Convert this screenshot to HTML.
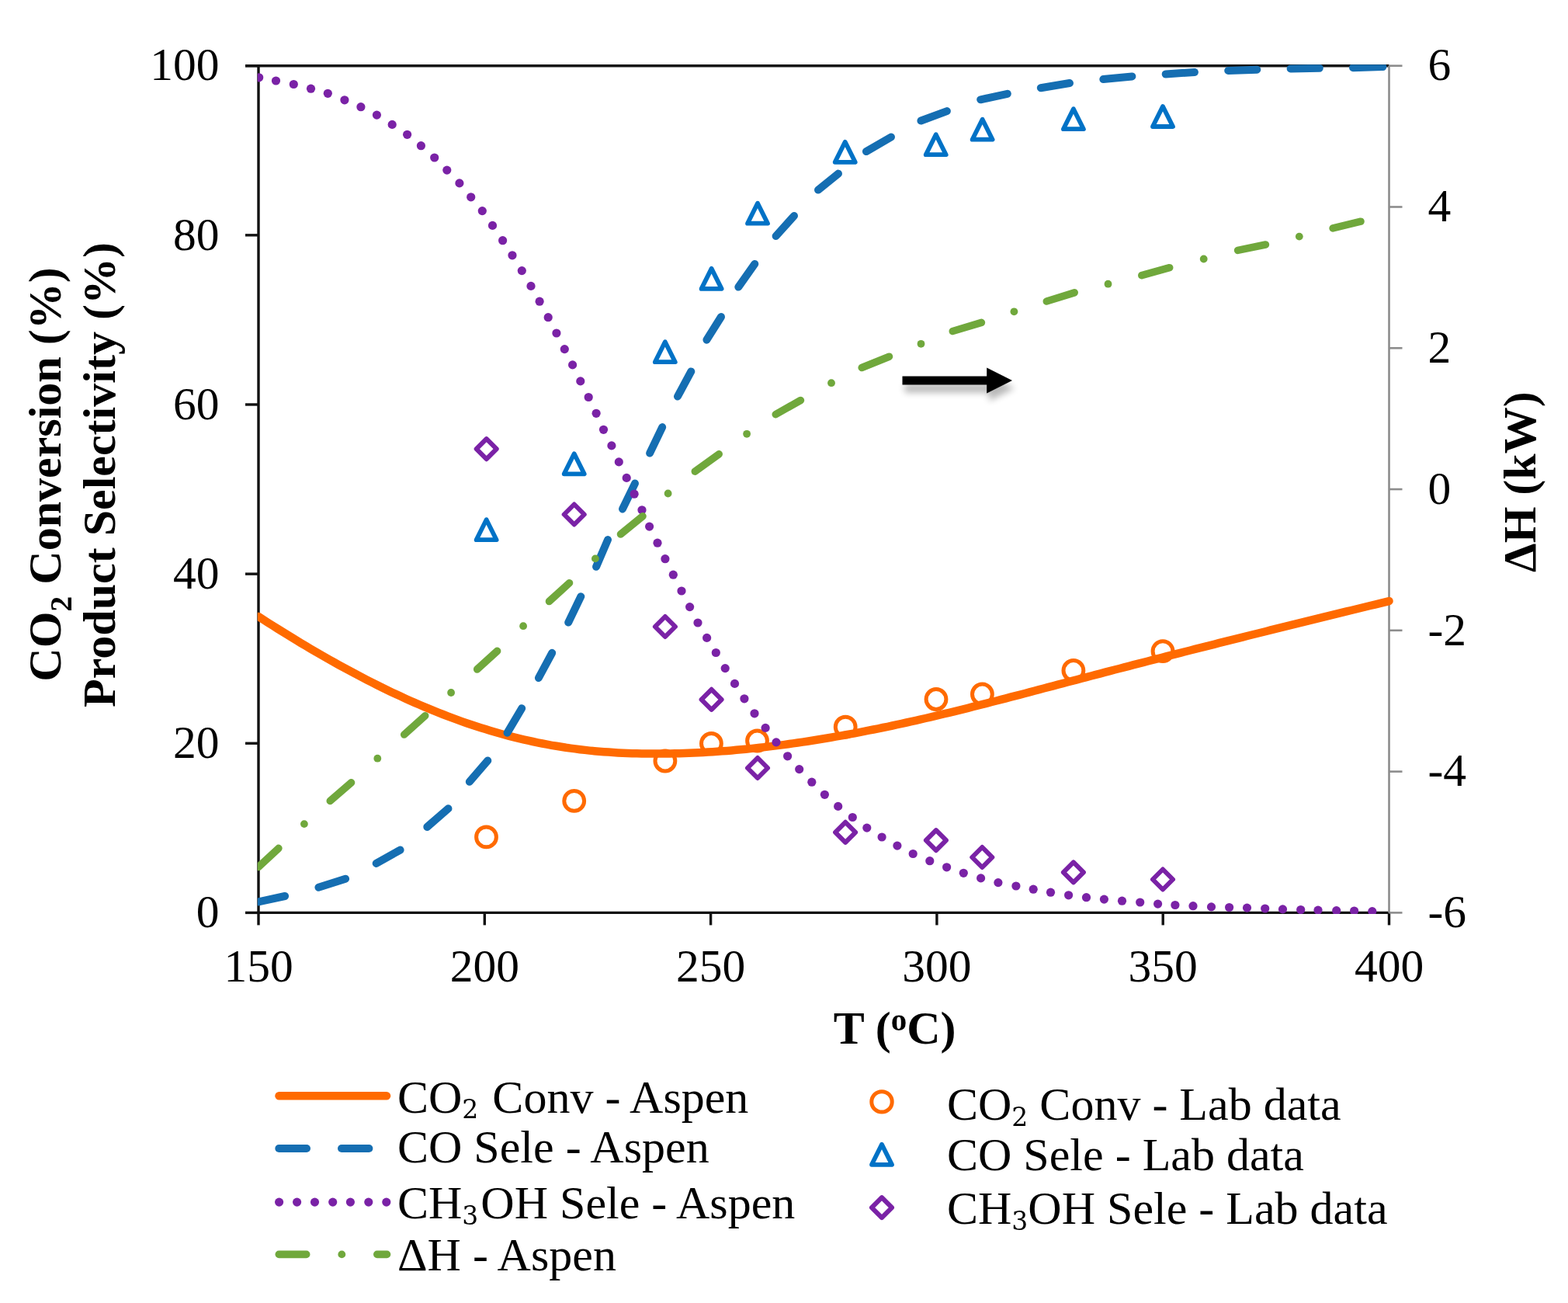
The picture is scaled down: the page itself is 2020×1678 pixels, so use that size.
<!DOCTYPE html>
<html><head><meta charset="utf-8"><title>CO2 conversion and product selectivity vs temperature</title>
<style>html,body{margin:0;padding:0;background:#fff;}svg{display:block;}</style></head>
<body><svg width="2020" height="1678" viewBox="0 0 2020 1678">
<rect width="2020" height="1678" fill="#fff"/>
<g stroke="#111" stroke-width="3.4" fill="none">
<line x1="333.0" y1="84.7" x2="333.0" y2="1175.4"/>
<line x1="331.2" y1="1175.4" x2="1789.5" y2="1175.4"/>
<line x1="316.0" y1="84.7" x2="1789.5" y2="84.7"/>
<line x1="316.0" y1="1175.40" x2="333.0" y2="1175.40"/>
<line x1="316.0" y1="957.26" x2="333.0" y2="957.26"/>
<line x1="316.0" y1="739.12" x2="333.0" y2="739.12"/>
<line x1="316.0" y1="520.98" x2="333.0" y2="520.98"/>
<line x1="316.0" y1="302.84" x2="333.0" y2="302.84"/>
<line x1="316.0" y1="84.70" x2="333.0" y2="84.70"/>
<line x1="333.00" y1="1175.4" x2="333.00" y2="1191.4"/>
<line x1="624.30" y1="1175.4" x2="624.30" y2="1191.4"/>
<line x1="915.60" y1="1175.4" x2="915.60" y2="1191.4"/>
<line x1="1206.90" y1="1175.4" x2="1206.90" y2="1191.4"/>
<line x1="1498.20" y1="1175.4" x2="1498.20" y2="1191.4"/>
<line x1="1789.50" y1="1175.4" x2="1789.50" y2="1191.4"/>
</g>
<g stroke="#8C8C8C" stroke-width="2.6" fill="none">
<line x1="1789.5" y1="84.7" x2="1789.5" y2="1175.4"/>
<line x1="1789.5" y1="1175.40" x2="1806.5" y2="1175.40"/>
<line x1="1789.5" y1="993.62" x2="1806.5" y2="993.62"/>
<line x1="1789.5" y1="811.83" x2="1806.5" y2="811.83"/>
<line x1="1789.5" y1="630.05" x2="1806.5" y2="630.05"/>
<line x1="1789.5" y1="448.27" x2="1806.5" y2="448.27"/>
<line x1="1789.5" y1="266.48" x2="1806.5" y2="266.48"/>
<line x1="1789.5" y1="84.70" x2="1806.5" y2="84.70"/>
</g>
<g font-family="'Liberation Serif','Times New Roman',serif" font-size="59.5" fill="#000">
<text x="282.5" y="1194.1" text-anchor="end">0</text>
<text x="282.5" y="976.0" text-anchor="end">20</text>
<text x="282.5" y="757.8" text-anchor="end">40</text>
<text x="282.5" y="539.7" text-anchor="end">60</text>
<text x="282.5" y="321.5" text-anchor="end">80</text>
<text x="282.5" y="103.4" text-anchor="end">100</text>
<text x="1839.5" y="1194.1">-6</text>
<text x="1839.5" y="1012.3">-4</text>
<text x="1839.5" y="830.5">-2</text>
<text x="1839.5" y="648.8">0</text>
<text x="1839.5" y="467.0">2</text>
<text x="1839.5" y="285.2">4</text>
<text x="1839.5" y="103.4">6</text>
<text x="333.0" y="1263.5" text-anchor="middle">150</text>
<text x="624.3" y="1263.5" text-anchor="middle">200</text>
<text x="915.6" y="1263.5" text-anchor="middle">250</text>
<text x="1206.9" y="1263.5" text-anchor="middle">300</text>
<text x="1498.2" y="1263.5" text-anchor="middle">350</text>
<text x="1789.5" y="1263.5" text-anchor="middle">400</text>
</g>
<g font-family="'Liberation Serif','Times New Roman',serif" font-weight="bold" font-size="60" fill="#000">
<text transform="translate(78,611) rotate(-90)" text-anchor="middle">CO<tspan font-size="40" dy="13.5">2</tspan><tspan dy="-13.5"> Conversion (%)</tspan></text>
<text transform="translate(147.5,611.5) rotate(-90)" text-anchor="middle">Product Selectivity (%)</text>
<text transform="translate(1978.4,620.6) rotate(-90)" text-anchor="middle">ΔH (kW)</text>
<text x="1152.6" y="1344.4" text-anchor="middle">T (<tspan font-size="41" dy="-17.4">o</tspan><tspan dy="17.4">C)</tspan></text>
</g>
<clipPath id="pc"><rect x="331.8" y="83.2" width="1465.7" height="1093.7"/></clipPath>
<path clip-path="url(#pc)" d="M333.0,794.0 L339.1,797.9 L345.2,801.8 L351.3,805.6 L357.4,809.5 L363.5,813.3 L369.6,817.0 L375.7,820.8 L381.8,824.5 L387.8,828.2 L393.9,831.8 L400.0,835.4 L406.1,839.0 L412.2,842.5 L418.3,846.0 L424.4,849.5 L430.5,852.9 L436.6,856.3 L442.7,859.6 L448.8,862.9 L454.9,866.2 L461.0,869.4 L467.1,872.6 L473.2,875.8 L479.3,878.9 L485.4,882.0 L491.4,885.0 L497.5,888.0 L503.6,890.9 L509.7,893.8 L515.8,896.6 L521.9,899.4 L528.0,902.2 L534.1,904.9 L540.2,907.5 L546.3,910.1 L552.4,912.7 L558.5,915.2 L564.6,917.6 L570.7,920.0 L576.8,922.4 L582.9,924.7 L589.0,926.9 L595.0,929.1 L601.1,931.2 L607.2,933.3 L613.3,935.3 L619.4,937.2 L625.5,939.1 L631.6,941.0 L637.7,942.8 L643.8,944.5 L649.9,946.2 L656.0,947.8 L662.1,949.4 L668.2,950.9 L674.3,952.3 L680.4,953.7 L686.5,955.0 L692.6,956.3 L698.6,957.5 L704.7,958.7 L710.8,959.8 L716.9,960.8 L723.0,961.8 L729.1,962.8 L735.2,963.6 L741.3,964.4 L747.4,965.2 L753.5,965.9 L759.6,966.6 L765.7,967.2 L771.8,967.7 L777.9,968.2 L784.0,968.6 L790.1,969.0 L796.2,969.4 L802.2,969.7 L808.3,969.9 L814.4,970.2 L820.5,970.3 L826.6,970.5 L832.7,970.6 L838.8,970.6 L844.9,970.6 L851.0,970.6 L857.1,970.5 L863.2,970.4 L869.3,970.3 L875.4,970.2 L881.5,970.0 L887.6,969.8 L893.7,969.5 L899.8,969.2 L905.8,968.9 L911.9,968.5 L918.0,968.2 L924.1,967.8 L930.2,967.3 L936.3,966.9 L942.4,966.4 L948.5,965.8 L954.6,965.3 L960.7,964.7 L966.8,964.1 L972.9,963.4 L979.0,962.8 L985.1,962.1 L991.2,961.4 L997.3,960.6 L1003.4,959.9 L1009.4,959.1 L1015.5,958.2 L1021.6,957.4 L1027.7,956.5 L1033.8,955.6 L1039.9,954.7 L1046.0,953.8 L1052.1,952.8 L1058.2,951.8 L1064.3,950.8 L1070.4,949.8 L1076.5,948.7 L1082.6,947.6 L1088.7,946.5 L1094.8,945.4 L1100.9,944.3 L1107.0,943.1 L1113.1,941.9 L1119.1,940.7 L1125.2,939.5 L1131.3,938.3 L1137.4,937.0 L1143.5,935.8 L1149.6,934.5 L1155.7,933.2 L1161.8,931.8 L1167.9,930.5 L1174.0,929.2 L1180.1,927.8 L1186.2,926.4 L1192.3,925.0 L1198.4,923.6 L1204.5,922.1 L1210.6,920.7 L1216.7,919.2 L1222.7,917.8 L1228.8,916.3 L1234.9,914.8 L1241.0,913.3 L1247.1,911.8 L1253.2,910.2 L1259.3,908.7 L1265.4,907.2 L1271.5,905.6 L1277.6,904.0 L1283.7,902.5 L1289.8,900.9 L1295.9,899.3 L1302.0,897.7 L1308.1,896.1 L1314.2,894.6 L1320.3,893.0 L1326.3,891.4 L1332.4,889.7 L1338.5,888.1 L1344.6,886.5 L1350.7,884.9 L1356.8,883.3 L1362.9,881.7 L1369.0,880.1 L1375.1,878.5 L1381.2,876.9 L1387.3,875.3 L1393.4,873.7 L1399.5,872.1 L1405.6,870.5 L1411.7,868.9 L1417.8,867.3 L1423.9,865.7 L1429.9,864.1 L1436.0,862.5 L1442.1,861.0 L1448.2,859.4 L1454.3,857.8 L1460.4,856.2 L1466.5,854.6 L1472.6,853.1 L1478.7,851.5 L1484.8,849.9 L1490.9,848.4 L1497.0,846.8 L1503.1,845.2 L1509.2,843.7 L1515.3,842.1 L1521.4,840.6 L1527.5,839.0 L1533.5,837.5 L1539.6,835.9 L1545.7,834.4 L1551.8,832.8 L1557.9,831.3 L1564.0,829.8 L1570.1,828.2 L1576.2,826.7 L1582.3,825.1 L1588.4,823.6 L1594.5,822.1 L1600.6,820.6 L1606.7,819.0 L1612.8,817.5 L1618.9,816.0 L1625.0,814.5 L1631.1,813.0 L1637.1,811.4 L1643.2,809.9 L1649.3,808.4 L1655.4,806.9 L1661.5,805.4 L1667.6,803.9 L1673.7,802.4 L1679.8,800.9 L1685.9,799.4 L1692.0,797.9 L1698.1,796.4 L1704.2,794.9 L1710.3,793.4 L1716.4,791.9 L1722.5,790.4 L1728.6,788.9 L1734.7,787.4 L1740.7,786.0 L1746.8,784.5 L1752.9,783.0 L1759.0,781.5 L1765.1,780.0 L1771.2,778.6 L1777.3,777.1 L1783.4,775.6 L1789.5,774.1" fill="none" stroke="#FF6A00" stroke-width="10.5" stroke-linecap="round" stroke-linejoin="round"/>
<g fill="none" stroke="#FF6A00" stroke-width="5">
<circle cx="626.5" cy="1077.9" r="12.9"/>
<circle cx="739.7" cy="1031.4" r="12.9"/>
<circle cx="856.9" cy="980" r="12.9"/>
<circle cx="916.4" cy="957.5" r="12.9"/>
<circle cx="975.5" cy="954" r="12.9"/>
<circle cx="1089.2" cy="936.2" r="12.9"/>
<circle cx="1206" cy="900.5" r="12.9"/>
<circle cx="1265.4" cy="894" r="12.9"/>
<circle cx="1382.9" cy="863.5" r="12.9"/>
<circle cx="1498" cy="838.7" r="12.9"/>
</g>
<g clip-path="url(#pc)" stroke="#156EB2" stroke-width="10" stroke-linecap="round" fill="none">
<line x1="333" y1="1161.4" x2="367.1" y2="1154"/>
<line x1="410.4" y1="1142.8" x2="445.1" y2="1131.7"/>
<line x1="484.7" y1="1111.9" x2="515.6" y2="1094.6"/>
<line x1="550.3" y1="1064.9" x2="577.5" y2="1041.3"/>
<line x1="604.8" y1="1006.7" x2="628.3" y2="979.5"/>
<line x1="653.5" y1="943.7" x2="672.2" y2="912.2"/>
<line x1="693.9" y1="873" x2="711.2" y2="840.8"/>
<line x1="732.2" y1="801.6" x2="748.3" y2="768.2"/>
<line x1="768.1" y1="729.8" x2="783" y2="695.1"/>
<line x1="802" y1="655.4" x2="818" y2="622.6"/>
<line x1="837.1" y1="583.6" x2="853.2" y2="550.1"/>
<line x1="873" y1="510.5" x2="890.3" y2="478.4"/>
<line x1="910.4" y1="437.7" x2="929" y2="408"/>
<line x1="951.3" y1="369.6" x2="972.3" y2="339.9"/>
<line x1="999.6" y1="304" x2="1023" y2="278"/>
<line x1="1054" y1="244.6" x2="1080" y2="223.6"/>
<line x1="1115.9" y1="195.1" x2="1148" y2="176.5"/>
<line x1="1186.4" y1="155.5" x2="1219.9" y2="143.1"/>
<line x1="1263.2" y1="128.3" x2="1297.8" y2="120.8"/>
<line x1="1340.8" y1="113.2" x2="1378" y2="107"/>
<line x1="1421.3" y1="102.1" x2="1458.4" y2="98.4"/>
<line x1="1501.7" y1="95.4" x2="1538.9" y2="92.9"/>
<line x1="1582.2" y1="90.9" x2="1619.3" y2="89.7"/>
<line x1="1662.6" y1="88.5" x2="1699.8" y2="87.7"/>
<line x1="1743" y1="87.2" x2="1781.4" y2="86"/>
</g>
<g fill="none" stroke="#0072C6" stroke-width="5.8" stroke-linejoin="round">
<path d="M626.6,669.2 L639.6,695.2 L613.6,695.2 Z"/>
<path d="M739.7,584.3 L752.7,610.3 L726.7,610.3 Z"/>
<path d="M856.8,440.2 L869.8,466.2 L843.8,466.2 Z"/>
<path d="M916.6,345.9 L929.6,371.9 L903.6,371.9 Z"/>
<path d="M976.0,261.7 L989.0,287.7 L963.0,287.7 Z"/>
<path d="M1088.7,182.8 L1101.7,208.8 L1075.7,208.8 Z"/>
<path d="M1205.7,173.2 L1218.7,199.2 L1192.7,199.2 Z"/>
<path d="M1265.6,153.7 L1278.6,179.7 L1252.6,179.7 Z"/>
<path d="M1382.9,140.2 L1395.9,166.2 L1369.9,166.2 Z"/>
<path d="M1498.0,137.0 L1511.0,163.0 L1485.0,163.0 Z"/>
</g>
<g clip-path="url(#pc)" fill="#7A22A6">
<circle cx="333.7" cy="99.8" r="5.6"/>
<circle cx="355.5" cy="104" r="5.6"/>
<circle cx="378.3" cy="108.5" r="5.6"/>
<circle cx="400.5" cy="114.2" r="5.6"/>
<circle cx="422.3" cy="120.3" r="5.6"/>
<circle cx="443.9" cy="128.8" r="5.6"/>
<circle cx="464.9" cy="137.7" r="5.6"/>
<circle cx="485.4" cy="148.1" r="5.6"/>
<circle cx="505.2" cy="160.4" r="5.6"/>
<circle cx="524.6" cy="173.3" r="5.6"/>
<circle cx="542.4" cy="187.7" r="5.6"/>
<circle cx="559.7" cy="203" r="5.6"/>
<circle cx="575.8" cy="219.1" r="5.6"/>
<circle cx="591.9" cy="235.9" r="5.6"/>
<circle cx="606.7" cy="253.8" r="5.6"/>
<circle cx="621.3" cy="271.6" r="5.6"/>
<circle cx="634.5" cy="290.4" r="5.6"/>
<circle cx="647.6" cy="309.7" r="5.6"/>
<circle cx="660" cy="328.8" r="5.6"/>
<circle cx="672.3" cy="348.6" r="5.6"/>
<circle cx="684" cy="368.4" r="5.6"/>
<circle cx="695.1" cy="388.2" r="5.6"/>
<circle cx="706.2" cy="408.7" r="5.6"/>
<circle cx="716.9" cy="429" r="5.6"/>
<circle cx="727.3" cy="449.6" r="5.6"/>
<circle cx="737.6" cy="469.9" r="5.6"/>
<circle cx="747.8" cy="490.9" r="5.6"/>
<circle cx="758.2" cy="511.5" r="5.6"/>
<circle cx="768.1" cy="532.3" r="5.6"/>
<circle cx="777.5" cy="553.3" r="5.6"/>
<circle cx="787.9" cy="573.9" r="5.6"/>
<circle cx="797.3" cy="594.9" r="5.6"/>
<circle cx="807.2" cy="615.4" r="5.6"/>
<circle cx="817.1" cy="636.2" r="5.6"/>
<circle cx="827" cy="656.8" r="5.6"/>
<circle cx="836.6" cy="678.1" r="5.6"/>
<circle cx="847" cy="699.2" r="5.6"/>
<circle cx="856.9" cy="719.7" r="5.6"/>
<circle cx="867.3" cy="740.2" r="5.6"/>
<circle cx="878" cy="761" r="5.6"/>
<circle cx="888.6" cy="781.6" r="5.6"/>
<circle cx="899" cy="802" r="5.6"/>
<circle cx="910.6" cy="821.4" r="5.6"/>
<circle cx="922.3" cy="840.5" r="5.6"/>
<circle cx="934.2" cy="860.6" r="5.6"/>
<circle cx="946.5" cy="880.4" r="5.6"/>
<circle cx="958.9" cy="899.8" r="5.6"/>
<circle cx="972" cy="918.8" r="5.6"/>
<circle cx="986.1" cy="937.4" r="5.6"/>
<circle cx="1000" cy="955.9" r="5.6"/>
<circle cx="1014.6" cy="973.8" r="5.6"/>
<circle cx="1029.7" cy="990.6" r="5.6"/>
<circle cx="1045.8" cy="1007.2" r="5.6"/>
<circle cx="1062.4" cy="1023.3" r="5.6"/>
<circle cx="1079.7" cy="1038.4" r="5.6"/>
<circle cx="1098.3" cy="1052.5" r="5.6"/>
<circle cx="1116.8" cy="1066.1" r="5.6"/>
<circle cx="1136.1" cy="1078" r="5.6"/>
<circle cx="1155.9" cy="1089.1" r="5.6"/>
<circle cx="1176.2" cy="1099.5" r="5.6"/>
<circle cx="1197.8" cy="1108.7" r="5.6"/>
<circle cx="1219.6" cy="1116.8" r="5.6"/>
<circle cx="1241.3" cy="1124.3" r="5.6"/>
<circle cx="1263.6" cy="1130.9" r="5.6"/>
<circle cx="1285.9" cy="1136.6" r="5.6"/>
<circle cx="1308.9" cy="1141" r="5.6"/>
<circle cx="1331.2" cy="1145.2" r="5.6"/>
<circle cx="1353.5" cy="1149.2" r="5.6"/>
<circle cx="1376.6" cy="1152.8" r="5.6"/>
<circle cx="1399.5" cy="1155.7" r="5.6"/>
<circle cx="1422.4" cy="1158.1" r="5.6"/>
<circle cx="1445.5" cy="1160.2" r="5.6"/>
<circle cx="1468.7" cy="1162" r="5.6"/>
<circle cx="1491.6" cy="1164.1" r="5.6"/>
<circle cx="1513.9" cy="1165.5" r="5.6"/>
<circle cx="1537" cy="1166.7" r="5.6"/>
<circle cx="1560.5" cy="1167.9" r="5.6"/>
<circle cx="1583.6" cy="1168.5" r="5.6"/>
<circle cx="1606.5" cy="1169.1" r="5.6"/>
<circle cx="1629.7" cy="1170" r="5.6"/>
<circle cx="1652.5" cy="1170.9" r="5.6"/>
<circle cx="1675.7" cy="1171.5" r="5.6"/>
<circle cx="1698" cy="1172.1" r="5.6"/>
<circle cx="1721.7" cy="1172.7" r="5.6"/>
<circle cx="1744.6" cy="1173" r="5.6"/>
<circle cx="1767.8" cy="1173.6" r="5.6"/>
</g>
<g fill="none" stroke="#7A22A6" stroke-width="6" stroke-linejoin="round">
<path d="M626.7,565.2 L639.7,578.2 L626.7,591.2 L613.7,578.2 Z"/>
<path d="M739.7,649.5 L752.7,662.5 L739.7,675.5 L726.7,662.5 Z"/>
<path d="M856.9,794.0 L869.9,807.0 L856.9,820.0 L843.9,807.0 Z"/>
<path d="M916.6,887.8 L929.6,900.8 L916.6,913.8 L903.6,900.8 Z"/>
<path d="M976.0,976.0 L989.0,989.0 L976.0,1002.0 L963.0,989.0 Z"/>
<path d="M1089.1,1058.8 L1102.1,1071.8 L1089.1,1084.8 L1076.1,1071.8 Z"/>
<path d="M1205.9,1069.2 L1218.9,1082.2 L1205.9,1095.2 L1192.9,1082.2 Z"/>
<path d="M1265.3,1091.0 L1278.3,1104.0 L1265.3,1117.0 L1252.3,1104.0 Z"/>
<path d="M1382.9,1110.4 L1395.9,1123.4 L1382.9,1136.4 L1369.9,1123.4 Z"/>
<path d="M1498.0,1119.5 L1511.0,1132.5 L1498.0,1145.5 L1485.0,1132.5 Z"/>
</g>
<g clip-path="url(#pc)">
<g stroke="#70A83C" stroke-width="9.6" stroke-linecap="round" fill="none">
<line x1="333" y1="1116.5" x2="358.9" y2="1092.4"/>
<line x1="425.3" y1="1031.4" x2="452.5" y2="1007.9"/>
<line x1="520.7" y1="946" x2="547.7" y2="921.8"/>
<line x1="614.7" y1="861.9" x2="640.6" y2="838.4"/>
<line x1="707.5" y1="774.4" x2="733.5" y2="750.8"/>
<line x1="799.5" y1="688" x2="828" y2="664.7"/>
<line x1="895.3" y1="607.1" x2="926.2" y2="584.8"/>
<line x1="999.3" y1="533.6" x2="1031.4" y2="515.5"/>
<line x1="1110.2" y1="473.5" x2="1145.5" y2="459.2"/>
<line x1="1227.3" y1="426.5" x2="1264.4" y2="415.4"/>
<line x1="1348.3" y1="388" x2="1384.2" y2="376.8"/>
<line x1="1470.8" y1="354.6" x2="1506.7" y2="344.7"/>
<line x1="1594.6" y1="322.4" x2="1630.4" y2="315"/>
<line x1="1717.1" y1="293.9" x2="1753" y2="285.2"/>
</g>
<g fill="#70A83C">
<circle cx="391.9" cy="1061.1" r="4.9"/>
<circle cx="486.3" cy="976.7" r="4.9"/>
<circle cx="581.1" cy="892" r="4.9"/>
<circle cx="674.1" cy="806.2" r="4.9"/>
<circle cx="766.9" cy="719.4" r="4.9"/>
<circle cx="860.6" cy="635.5" r="4.9"/>
<circle cx="962.1" cy="558.8" r="4.9"/>
<circle cx="1071" cy="493.2" r="4.9"/>
<circle cx="1186.5" cy="442.8" r="4.9"/>
<circle cx="1306.4" cy="401.3" r="4.9"/>
<circle cx="1427.5" cy="365.7" r="4.9"/>
<circle cx="1550.7" cy="333.5" r="4.9"/>
<circle cx="1673.8" cy="304.6" r="4.9"/>
</g>
</g>
<filter id="sh" x="-20%" y="-50%" width="140%" height="250%"><feGaussianBlur stdDeviation="4.5"/></filter>
<path d="M1162.5,484.5 L1271.2,484.5 L1271.2,473.5 L1304,490 L1271.2,506.5 L1271.2,495.5 L1162.5,495.5 Z" fill="#000" opacity="0.28" transform="translate(3,10)" filter="url(#sh)"/>
<path d="M1162.5,484.5 L1271.2,484.5 L1271.2,473.5 L1304,490 L1271.2,506.5 L1271.2,495.5 L1162.5,495.5 Z" fill="#000"/>
<g font-family="'Liberation Serif','Times New Roman',serif" font-size="60" fill="#000">
<line x1="359.5" y1="1411.3" x2="498" y2="1411.3" stroke="#FF6A00" stroke-width="10.5" stroke-linecap="round"/>
<g stroke="#156EB2" stroke-width="10" stroke-linecap="round"><line x1="359.3" y1="1479" x2="395" y2="1479"/><line x1="440" y1="1479" x2="475.4" y2="1479"/></g>
<g fill="#7A22A6"><circle cx="359.6" cy="1548.1" r="5.6"/><circle cx="382.6" cy="1548.1" r="5.6"/><circle cx="405.5" cy="1548.1" r="5.6"/><circle cx="428.7" cy="1548.1" r="5.6"/><circle cx="451.4" cy="1548.1" r="5.6"/><circle cx="474.8" cy="1548.1" r="5.6"/><circle cx="497.8" cy="1548.1" r="5.6"/></g>
<g stroke="#70A83C" stroke-width="9.6" stroke-linecap="round"><line x1="359.3" y1="1615.4" x2="394.7" y2="1615.4"/><line x1="485.8" y1="1615.4" x2="498.5" y2="1615.4"/></g><circle cx="440.3" cy="1615.4" r="4.9" fill="#70A83C"/>
<text x="512" y="1432.8">CO<tspan font-family="DejaVu Serif" font-size="33" dy="7.5">2</tspan><tspan dy="-7.5" dx="3"> Conv - Aspen</tspan></text>
<text x="512" y="1497">CO Sele - Aspen</text>
<text x="512" y="1569">CH<tspan font-family="DejaVu Serif" font-size="33" dy="7.5">3</tspan><tspan dy="-7.5" dx="3">OH Sele - Aspen</tspan></text>
<text x="512" y="1635.5">ΔH - Aspen</text>
<circle cx="1136" cy="1418.9" r="13.2" fill="none" stroke="#FF6A00" stroke-width="5"/>
<g fill="none" stroke="#0072C6" stroke-width="5.8" stroke-linejoin="round"><path d="M1136.0,1473.8 L1149.0,1499.8 L1123.0,1499.8 Z"/></g>
<g fill="none" stroke="#7A22A6" stroke-width="6" stroke-linejoin="round"><path d="M1136.0,1542.1 L1149.0,1555.1 L1136.0,1568.1 L1123.0,1555.1 Z"/></g>
<text x="1220" y="1442.4">CO<tspan font-family="DejaVu Serif" font-size="33" dy="7.5">2</tspan><tspan dy="-7.5"> Conv - Lab data</tspan></text>
<text x="1220" y="1506.5">CO Sele - Lab data</text>
<text x="1220" y="1576">CH<tspan font-family="DejaVu Serif" font-size="33" dy="7.5">3</tspan><tspan dy="-7.5">OH Sele - Lab data</tspan></text>
</g>
</svg></body></html>
